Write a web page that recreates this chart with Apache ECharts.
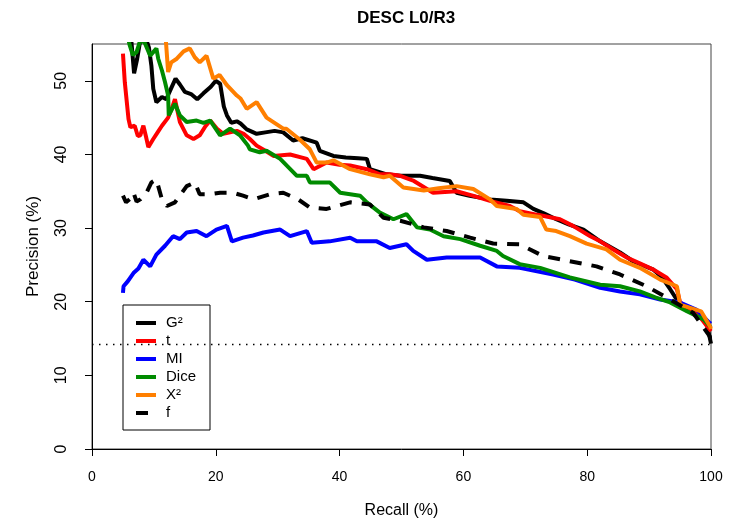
<!DOCTYPE html>
<html>
<head>
<meta charset="utf-8">
<script src="https://cdn.jsdelivr.net/npm/echarts@6/dist/echarts.min.js"></script>
<style>
html, body { margin: 0; padding: 0; background: #fff; }
#chart { width: 731px; height: 520px; }
</style>
</head>
<body>
<div id="chart"></div>
<script>
// recall (%) / precision (%) pairs
const g2 = [[5,57],[6.3,56],[6.8,51],[7.3,53],[7.8,55.5],[8.6,56],[9.2,54.5],[9.6,52],[9.9,48.9],[10.4,47.1],[11.3,47.8],[12,47.5],[12.8,49],[13.5,50.3],[14.2,49.5],[15,48.5],[16,48.2],[17,47.5],[18,48.3],[19.2,49.2],[20,50],[20.7,49.6],[21.3,46.5],[21.8,45.3],[22.5,44.3],[23.4,44.5],[24,44.2],[25,43.4],[26.6,42.8],[28,43],[29.5,43.2],[30.9,43],[32.5,41.9],[34,42.2],[36.3,41.6],[36.8,40.5],[39,39.8],[41,39.6],[43,39.5],[44.4,39.4],[44.9,38],[47.6,37.3],[49.8,37.1],[53,37.1],[55,36.8],[57.8,36.4],[58.9,34.8],[61,34.4],[64.3,33.9],[67,33.7],[69.7,33.5],[71.3,32.6],[73,32],[75,31.2],[77,30.5],[79.4,29.8],[82.1,28.2],[85.3,26.7],[87.4,25.5],[90.6,24.4],[92,23.4],[93.4,21.7],[95,19.6],[97.1,18.9],[99.3,17.1],[100,14.3]];
const tScore = [[5,53.7],[5.3,49.8],[5.9,44.8],[6.2,43.7],[6.9,43.9],[7.4,42.5],[7.8,42.6],[8.3,43.9],[8.7,42.5],[9.1,41],[9.9,42.1],[10.6,43],[11.3,43.9],[12.3,45],[13,46.5],[13.4,47.5],[14.2,44.4],[15.3,42.6],[16.4,42.1],[17.4,42.6],[18.3,43.8],[19.1,44.6],[20.2,43.5],[21.2,42.8],[23.4,43.2],[24.5,42.8],[25.5,42.1],[26.6,41.2],[28,40.5],[29.3,39.8],[32,40],[34.7,39.4],[35.8,38],[37.9,38.9],[40,38.6],[41.7,38.5],[44.4,38],[46.5,37.3],[48.1,37.3],[49.8,37.1],[52,36.4],[55.1,34.8],[58.9,35],[61.5,34.4],[64.3,33.7],[67.5,33],[69.1,32.3],[72,31.8],[75.6,31.2],[77.7,30.3],[80.5,28.9],[82.1,28.2],[84,27.2],[86.4,26],[88.5,25.2],[90.6,24.4],[92.8,23.3],[94.5,21.7],[95,19.9],[97.7,18.5],[99.8,16.2],[100,16]];
const mi = [[5,21.2],[5.1,22.1],[5.8,22.8],[6.7,23.9],[7.5,24.5],[8.3,25.7],[9.4,24.8],[10.4,26.4],[11.8,27.6],[13.1,28.9],[14.2,28.5],[15.3,29.4],[16.9,29.6],[18.5,28.9],[20.1,29.8],[21.8,30.3],[22.6,28.2],[24.4,28.7],[26,29],[27.7,29.4],[30.4,29.8],[32,28.9],[34.7,29.6],[35.5,28],[38.4,28.2],[41.7,28.7],[42.8,28.2],[46,28.2],[48.1,27.3],[50.8,27.8],[51.9,26.9],[54.1,25.7],[57.3,26],[62.7,26],[65.4,24.8],[69.1,24.6],[74.5,23.7],[78,23],[82.1,21.9],[85.3,21.4],[88.5,21],[91.8,20.3],[95,19.9],[97.7,18.9],[99.8,17.1],[100,17]];
const dice = [[5.5,57],[6.1,54.8],[6.6,53.5],[7.2,53.9],[7.8,55.5],[8.5,55.2],[9.4,53.4],[10,54],[10.4,54.4],[10.7,53],[11.3,51.4],[11.8,49.8],[12.3,48],[12.4,45.3],[13.4,46.9],[14.2,45.3],[15.3,44.4],[16.9,44.6],[18,44.3],[19.1,44.6],[20.7,42.6],[22.3,43.5],[23.9,42.6],[25.2,41.2],[25.5,40.7],[27.1,40.3],[28.2,40.5],[30.4,39.4],[33.1,37.1],[34.7,37.1],[35.2,36.2],[38.4,36.2],[40.1,34.8],[43.3,34.4],[44.4,33.5],[46.5,32.1],[48.7,31.2],[50.8,31.9],[52.5,30.1],[54.6,29.8],[56.8,28.9],[59.5,28.5],[62.7,27.6],[65.4,26.9],[66.4,26.2],[69.1,25.1],[72.4,24.6],[77.2,23.3],[82.1,22.3],[85.3,22.1],[88.5,21.4],[91,20.6],[93.4,19.9],[96.1,18.7],[98.8,17.6],[100,16.5]];
const x2 = [[11.8,57],[12.3,51.2],[12.8,52.5],[13.7,53],[14.8,54],[15.8,54.4],[16.6,53.2],[17.4,52.5],[18.5,53.4],[19.6,50.3],[20.6,50.8],[21.8,49.4],[23.4,48],[24,47.6],[25,46.2],[26.6,47.1],[28.2,45],[29.3,44.4],[30.9,43.5],[31.4,43.5],[33.6,42],[35.2,40.7],[36.3,38.9],[37.9,38.9],[39,39.2],[41.7,38],[44.9,37.3],[47.1,36.9],[48.1,37.1],[50.3,35.5],[53.6,35.1],[56,35.4],[58.9,35.7],[61.6,35.3],[64.3,33.9],[65.4,33],[68.6,32.6],[69.7,31.8],[72.4,31.5],[73.4,29.8],[75,29.6],[77.2,28.9],[79.9,27.9],[83.1,27.1],[85.3,25.7],[88.5,24.6],[91.8,23],[94.5,22.1],[95,19.6],[98.4,18.7],[99.8,16.7],[100,16.3]];
const fFreq = [[5,34.4],[5.5,33.5],[6.2,34],[6.7,34.8],[7.2,33.6],[7.8,33.9],[8.8,34.8],[9.6,36.2],[10.4,36.6],[11.3,33.9],[12.1,33],[13.4,33.5],[15.3,35.7],[16.6,36.2],[17.4,34.6],[19.1,34.6],[20.7,34.8],[22.8,34.8],[24.4,34.4],[26.1,33.9],[28.8,34.6],[30.9,34.8],[33.3,33.9],[35.2,32.8],[37.9,32.6],[41.7,33.5],[44.9,33.2],[47.1,31.4],[49.8,31],[53.6,30.1],[57.3,29.6],[61.1,28.7],[64.8,27.9],[69.1,27.8],[72.9,26.2],[77.2,25.5],[81.5,24.8],[85.3,23.7],[89.6,22.1],[93.4,20.3],[97.1,18.5],[99.8,15.3],[100,14.3]];
const baseline = [[0,14.2],[100,14.2]];

const names = ["G²", "t", "MI", "Dice", "X²", "f"];
const colors = ["#000000", "#ff0000", "#0000ff", "#008b00", "#ff7f00", "#000000"];
const curves = [g2, tScore, mi, dice, x2, fFreq];

const font = "Liberation Sans, Arial, sans-serif";
const chart = echarts.init(document.getElementById("chart"));

const series = curves.map((d, i) => ({
  name: names[i],
  type: "line",
  data: d,
  showSymbol: false,
  symbol: "none",
  animation: false,
  lineStyle: {
    color: colors[i],
    width: 4,
    type: i === 5 ? [12, 10] : "solid"
  },
  itemStyle: { color: colors[i] }
}));
series.unshift({
  name: "baseline",
  type: "line",
  data: baseline,
  symbol: "none",
  animation: false,
  lineStyle: { color: "#000", width: 1.5, type: [1.5, 5.5] }
});

chart.setOption({
  backgroundColor: "#fff",
  title: {
    text: "DESC L0/R3",
    left: 352,
    top: 5,
    textStyle: { fontFamily: font, fontSize: 17, fontWeight: "bold", color: "#000" }
  },
  legend: {
    data: names,
    orient: "vertical",
    left: 123,
    top: 305,
    itemWidth: 20,
    itemHeight: 14,
    itemGap: 2,
    padding: [10, 14, 9, 11],
    borderColor: "#000",
    borderWidth: 1,
    selectedMode: false,
    itemStyle: { opacity: 0 },
    lineStyle: { width: 4 },
    textStyle: { fontFamily: font, fontSize: 15, lineHeight: 16, color: "#000", padding: [0, 0, 0, 5] }
  },
  grid: {
    left: 92,
    right: 20,
    top: 44,
    bottom: 71,
    outerBoundsMode: "none",
    show: true,
    borderColor: "#444",
    borderWidth: 1
  },
  xAxis: {
    type: "value",
    min: 0,
    max: 100,
    interval: 20,
    name: "Recall (%)",
    nameLocation: "middle",
    nameGap: 54,
    nameTextStyle: { fontFamily: font, fontSize: 16, color: "#000" },
    axisLine: { show: true, lineStyle: { color: "#000" } },
    axisTick: { show: true, length: 7, lineStyle: { color: "#000" } },
    axisLabel: { margin: 21, fontFamily: font, fontSize: 14, color: "#000" },
    splitLine: { show: false }
  },
  yAxis: {
    type: "value",
    min: 0,
    max: 55,
    interval: 10,
    name: "Precision (%)",
    nameLocation: "middle",
    nameGap: 50,
    nameTextStyle: { fontFamily: font, fontSize: 17, color: "#000" },
    axisLine: { show: true, lineStyle: { color: "#000" } },
    axisTick: { show: true, length: 7, lineStyle: { color: "#000" } },
    axisLabel: {
      margin: 22,
      rotate: 90,
      fontFamily: font,
      fontSize: 16,
      color: "#000",
      showMaxLabel: false
    },
    splitLine: { show: false }
  },
  series: series
});
</script>
</body>
</html>
